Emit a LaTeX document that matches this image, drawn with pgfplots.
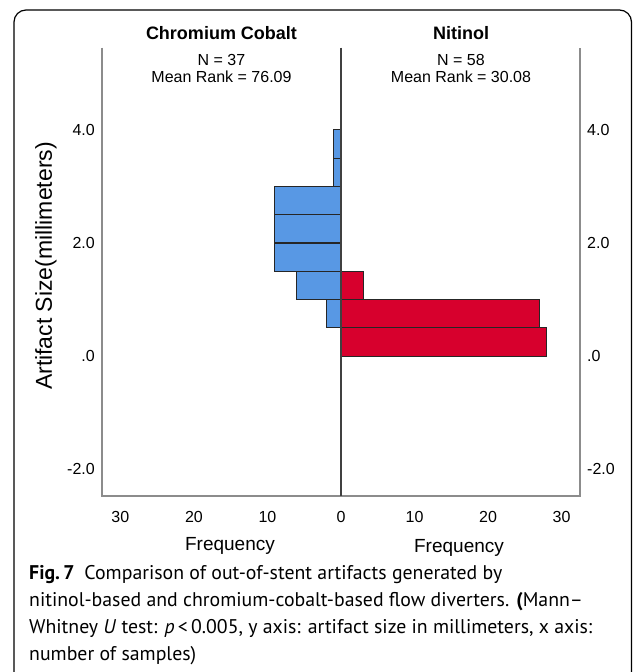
\documentclass[border=0pt]{standalone}
\usepackage{fontspec}
\setmainfont{Liberation Sans}
\newfontfamily\capfont{PT Sans}
\usepackage{pgfplots}
\pgfplotsset{compat=1.18}
\definecolor{ccblue}{RGB}{88,152,228}
\definecolor{nired}{RGB}{215,0,45}
\definecolor{axgray}{RGB}{140,140,140}
\begin{document}
\begin{tikzpicture}[x=1bp,y=1bp]
\useasboundingbox (0,0) rectangle (633,672);
\draw[line width=1.2bp, rounded corners=12bp] (14,-10) -- (14,662) -- (631.5,662) -- (631.5,-10);
\begin{axis}[
  at={(102bp,176bp)}, anchor=south west,
  scale only axis, width=478bp, height=448.3bp,
  xmin=-32.5, xmax=32.5, ymin=-2.47, ymax=5.45,
  axis line style={draw=none},
  major tick length=0pt,
  xtick={-30,-20,-10,0,10,20,30},
  xticklabels={30,20,10,0,10,20,30},
  ytick={-2,0,2,4},
  yticklabels={-2.0,.0,2.0,4.0},
  every tick label/.append style={inner sep=0pt, font=\fontsize{16bp}{18bp}\selectfont},
  xticklabel style={yshift=-15bp},
  yticklabel style={xshift=-7bp},
  xbar, bar width=0.5, bar shift=0pt,
  clip=false,
]
\addplot[fill=ccblue, draw=black!85, line width=1.1bp] coordinates {(-2,0.75) (-6,1.25) (-9,1.75) (-9,2.25) (-9,2.75) (-1,3.25) (-1,3.75)};
\addplot[fill=nired, draw=black!85, line width=1.1bp] coordinates {(28,0.25) (27,0.75) (3,1.25)};
\draw[axgray, line width=1.3bp] (axis cs:-32.5,5.45) -- (axis cs:-32.5,-2.47) -- (axis cs:32.5,-2.47) -- (axis cs:32.5,5.45);
\draw[black!75, line width=1.5bp] (axis cs:0,5.45) -- (axis cs:0,-2.47);
\end{axis}
\begin{axis}[
  at={(102bp,176bp)}, anchor=south west,
  scale only axis, width=478bp, height=448.3bp,
  xmin=-32.5, xmax=32.5, ymin=-2.47, ymax=5.45,
  axis line style={draw=none},
  major tick length=0pt,
  xtick=\empty,
  ytick={-2,0,2,4},
  yticklabels={-2.0,.0,2.0,4.0},
  yticklabel pos=right,
  every tick label/.append style={inner sep=0pt, font=\fontsize{16bp}{18bp}\selectfont},
  yticklabel style={xshift=7bp},
]
\addplot[draw=none] coordinates {(0,0)};
\end{axis}
\node[font=\fontsize{18bp}{20bp}\selectfont\bfseries] at (221.5,639) {Chromium Cobalt};
\node[font=\fontsize{18bp}{20bp}\selectfont\bfseries] at (461,639) {Nitinol};
\node[font=\fontsize{16bp}{18bp}\selectfont] at (221.5,612) {N = 37};
\node[font=\fontsize{16bp}{18bp}\selectfont] at (221.5,595) {Mean Rank = 76.09};
\node[font=\fontsize{16bp}{18bp}\selectfont] at (461,612) {N = 58};
\node[font=\fontsize{16bp}{18bp}\selectfont] at (461,595) {Mean Rank = 30.08};
\node[font=\fontsize{19bp}{21bp}\selectfont] at (230,126) {Frequency};
\node[font=\fontsize{19bp}{21bp}\selectfont] at (459,124) {Frequency};
\node[rotate=90, font=\fontsize{23bp}{25bp}\selectfont] at (46,406) {Artifact Size(millimeters)};
\begin{scope}[every node/.style={anchor=base west, inner sep=0pt, font=\capfont\fontsize{19.8bp}{22bp}\selectfont}]
\node at (29,92) {\textbf{Fig.\,7}\hspace{0.5em}Comparison of out-of-stent artifacts generated by};
\node at (29,65) {nitinol-based and chromium-cobalt-based flow diverters. \textbf{(}Mann–};
\node at (29,38) {Whitney \textit{U} test: \textit{p}\,<\,0.005, y axis: artifact size in millimeters, x axis:};
\node at (29,11) {number of samples)};
\end{scope}
\end{tikzpicture}
\end{document}
